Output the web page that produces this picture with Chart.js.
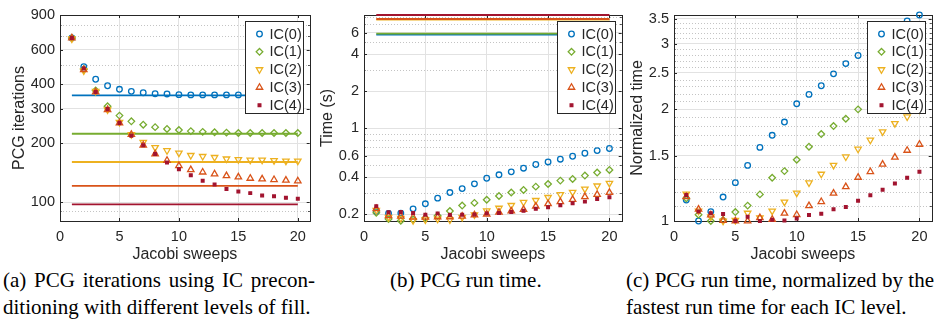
<!DOCTYPE html>
<html>
<head>
<meta charset="utf-8">
<script src="https://cdn.jsdelivr.net/npm/chart.js@4.4.0/dist/chart.umd.min.js"></script>
<style>
  body { margin: 0; background: #fff; width: 937px; height: 324px; position: relative; overflow: hidden; }
  canvas { position: absolute; top: 0; }
  .cap { position: absolute; font-family: 'Liberation Serif', 'Times New Roman', serif; font-size: 21px; line-height: 27px; color: #000; white-space: nowrap; }
  .just { text-align: justify; text-align-last: justify; white-space: normal; }
</style>
</head>
<body>
<canvas id="iterChart" style="left:0px" width="315" height="264"></canvas>
<canvas id="timeChart" style="left:315px" width="312" height="264"></canvas>
<canvas id="normChart" style="left:627px" width="310" height="264"></canvas>

<div class="cap just" style="left:3px; top:267px; width:312px">(a) PCG iterations using IC precon-</div>
<div class="cap" style="left:3px; top:294px">ditioning with different levels of fill.</div>
<div class="cap" style="left:390px; top:267px">(b) PCG run time.</div>
<div class="cap just" style="left:626px; top:267px; width:308px">(c) PCG run time, normalized by the</div>
<div class="cap" style="left:626px; top:294px">fastest run time for each IC level.</div>

<script>
// Jacobi sweeps on the x axis
const sweeps = [1, 2, 3, 4, 5, 6, 7, 8, 9, 10, 11, 12, 13, 14, 15, 16, 17, 18, 19, 20];
const icLabels = ['IC(0)', 'IC(1)', 'IC(2)', 'IC(3)', 'IC(4)'];
const xTicks = [0, 5, 10, 15, 20];

// (a) PCG iterations
const iterIC0 = [687, 490, 423, 392, 376, 367, 361, 357, 356, 353, 352, 352, 352, 352, 352, 352, 352, 352, 352, 352];
const iterIC1 = [687, 476, 371, 308, 276, 258, 248, 241, 236, 233, 230, 228, 227, 226, 225, 225, 225, 225, 225, 225];
const iterIC2 = [680, 468, 367, 296, 255, 221, 202, 190, 183, 178, 173, 171, 169, 166, 165, 164, 164, 163, 162, 162];
const iterIC3 = [687, 473, 364, 296, 253, 221, 195, 176, 163, 153, 146, 142, 139, 136, 134, 132, 131, 130, 129, 128];
const iterIC4 = [687, 480, 364, 298, 253, 218, 195, 176, 159, 147, 137, 128.5, 123, 116.5, 113, 111, 108, 107, 105, 104];
const iterExact = [350, 223, 160, 121, 97.3];
const iterTicks = [100, 200, 300, 400, 600, 900];
const iterMinor = [80, 90, 500, 700, 800];

// (b) PCG run time (s)
const timeIC0 = [0.210, 0.203, 0.204, 0.221, 0.243, 0.270, 0.300, 0.323, 0.353, 0.392, 0.418, 0.442, 0.473, 0.507, 0.532, 0.560, 0.592, 0.626, 0.658, 0.684];
const timeIC1 = [0.205, 0.183, 0.177, 0.181, 0.186, 0.194, 0.212, 0.235, 0.247, 0.262, 0.281, 0.300, 0.315, 0.335, 0.352, 0.375, 0.387, 0.412, 0.436, 0.458];
const timeIC2 = [0.215, 0.189, 0.185, 0.178, 0.180, 0.183, 0.180, 0.189, 0.198, 0.213, 0.224, 0.236, 0.250, 0.259, 0.274, 0.289, 0.302, 0.321, 0.340, 0.357];
const timeIC3 = [0.221, 0.194, 0.192, 0.189, 0.189, 0.190, 0.190, 0.192, 0.197, 0.200, 0.207, 0.212, 0.218, 0.232, 0.243, 0.252, 0.263, 0.277, 0.289, 0.300];
const timeIC4 = [0.232, 0.207, 0.208, 0.204, 0.198, 0.203, 0.197, 0.198, 0.199, 0.203, 0.204, 0.208, 0.213, 0.221, 0.228, 0.236, 0.245, 0.253, 0.266, 0.275];
const timeExact = [5.77, 5.88, 7.64, 7.74, 8.34];
const timeTicks = [0.2, 0.4, 0.6, 1, 2, 4, 6];
const timeMinor = [0.3, 0.5, 0.7, 0.8, 0.9, 3, 5, 7, 8];

// (c) normalized run time
const normIC0 = [1.139, 1.0, 1.06, 1.16, 1.268, 1.411, 1.577, 1.70, 1.845, 2.066, 2.19, 2.31, 2.487, 2.65, 2.786, 2.93, 3.09, 3.26, 3.45, 3.58];
const normIC1 = [1.151, 1.04, 1.0, 1.006, 1.057, 1.10, 1.179, 1.307, 1.362, 1.461, 1.584, 1.713, 1.80, 1.883, 1.996, 2.1, 2.22, 2.35, 2.48, 2.62];
const normIC2 = [1.182, 1.064, 1.027, 1.0, 1.005, 1.05, 1.02, 1.064, 1.125, 1.19, 1.267, 1.337, 1.413, 1.488, 1.561, 1.651, 1.738, 1.83, 1.906, 1.99];
const normIC3 = [1.162, 1.075, 1.038, 1.003, 1.0, 1.0, 1.02, 1.01, 1.049, 1.04, 1.099, 1.127, 1.187, 1.236, 1.31, 1.357, 1.42, 1.483, 1.548, 1.607];
const normIC4 = [1.174, 1.06, 1.049, 1.044, 1.0, 1.027, 1.0, 1.008, 1.003, 1.015, 1.038, 1.046, 1.075, 1.09, 1.134, 1.172, 1.214, 1.262, 1.307, 1.357];
const normTicks = [1, 1.5, 2, 2.5, 3, 3.5];
const normMinor = [1.1, 1.2, 1.3, 1.4, 1.6, 1.7, 1.8, 1.9, 2.1, 2.2, 2.3, 2.4, 2.6, 2.7, 2.8, 2.9, 3.1, 3.2, 3.3, 3.4];

// kiểu vẽ (màu MATLAB)
const colors = ['#0072BD', '#77AC30', '#EDB120', '#D95319', '#A2142F'];
const markers = [
    { style: 'circle', radius: 2.8, rotation: 0, fill: false },
    { style: 'rectRot', radius: 3.3, rotation: 0, fill: false },
    { style: 'triangle', radius: 3.7, rotation: 180, fill: false },
    { style: 'triangle', radius: 3.7, rotation: 0, fill: false },
    { style: 'rect', radius: 1.9, rotation: 0, fill: true }
];
const axisColor = '#262626';
const sans = "'Liberation Sans', Arial, Helvetica, sans-serif";

function drawMarker(ctx, m, color, x, y) {
    const r = m.radius;
    ctx.beginPath();
    if (m.style === 'circle') {
        ctx.arc(x, y, r, 0, Math.PI * 2);
    } else if (m.style === 'rectRot') {
        ctx.moveTo(x, y - r); ctx.lineTo(x + r, y); ctx.lineTo(x, y + r); ctx.lineTo(x - r, y);
        ctx.closePath();
    } else if (m.style === 'triangle') {
        let rad = m.rotation * Math.PI / 180;
        for (let k = 0; k < 3; k++) {
            const px = x + Math.sin(rad) * r, py = y - Math.cos(rad) * r;
            if (k === 0) ctx.moveTo(px, py); else ctx.lineTo(px, py);
            rad += Math.PI * 2 / 3;
        }
        ctx.closePath();
    } else {
        const s = r * Math.SQRT1_2;
        ctx.rect(x - s, y - s, 2 * s, 2 * s);
    }
    if (m.fill) { ctx.fillStyle = color; ctx.fill(); }
    ctx.strokeStyle = color;
    ctx.lineWidth = 1.3;
    ctx.stroke();
}

// lưới phụ chấm, khung trục, vạch chia kiểu MATLAB và chú giải
const matlabAxes = {
    id: 'matlabAxes',
    beforeDatasetsDraw(chart, args, opts) {
        const { ctx, chartArea: a } = chart;
        const y = chart.scales.y, x = chart.scales.x;
        ctx.save();
        ctx.strokeStyle = '#c4c4c4';
        ctx.lineWidth = 1;
        ctx.setLineDash([1, 2]);
        opts.minor.forEach(v => {
            const py = Math.round(y.getPixelForValue(v)) + 0.5;
            ctx.beginPath(); ctx.moveTo(a.left, py); ctx.lineTo(a.right, py); ctx.stroke();
        });
        ctx.setLineDash([]);
        ctx.strokeStyle = axisColor;
        ctx.beginPath();
        opts.major.forEach(v => {
            const py = Math.round(y.getPixelForValue(v)) + 0.5;
            ctx.moveTo(a.left, py); ctx.lineTo(a.left + 3, py);
            ctx.moveTo(a.right, py); ctx.lineTo(a.right - 3, py);
        });
        opts.minor.forEach(v => {
            const py = Math.round(y.getPixelForValue(v)) + 0.5;
            ctx.moveTo(a.left, py); ctx.lineTo(a.left + 1.5, py);
            ctx.moveTo(a.right, py); ctx.lineTo(a.right - 1.5, py);
        });
        xTicks.forEach(v => {
            const px = Math.round(x.getPixelForValue(v)) + 0.5;
            ctx.moveTo(px, a.bottom); ctx.lineTo(px, a.bottom - 3);
            ctx.moveTo(px, a.top); ctx.lineTo(px, a.top + 3);
        });
        ctx.stroke();
        ctx.strokeRect(Math.round(a.left) + 0.5, Math.round(a.top) + 0.5,
            Math.round(a.right) - Math.round(a.left), Math.round(a.bottom) - Math.round(a.top));
        ctx.restore();
    },
    afterDatasetsDraw(chart) {
        const { ctx, chartArea: a } = chart;
        const w = 58, h = 92;
        const left = Math.round(a.right - 7 - w) + 0.5, top = Math.round(a.top + 6) + 0.5;
        ctx.save();
        ctx.fillStyle = '#fff';
        ctx.fillRect(left, top, w, h);
        ctx.strokeStyle = axisColor;
        ctx.lineWidth = 1;
        ctx.strokeRect(left, top, w, h);
        ctx.font = '14.5px ' + sans;
        ctx.textBaseline = 'middle';
        icLabels.forEach((lab, i) => {
            const cy = top + 12.5 + i * 17.8;
            drawMarker(ctx, markers[i], colors[i], left + 14, cy);
            ctx.fillStyle = axisColor;
            ctx.fillText(lab, left + 24, cy + 0.5);
        });
        ctx.restore();
    }
};

function buildChart(id, series, exact, yMin, yMax, yMajor, yMinor, yTitle, padLeft, yWidth, padRight) {
    const datasets = [];
    if (exact) {
        // đường tham chiếu: dataset sau vẽ đè lên dataset trước
        exact.forEach((v, i) => datasets.push({
            type: 'line',
            data: [{ x: sweeps[0], y: v }, { x: sweeps[sweeps.length - 1], y: v }],
            borderColor: colors[i],
            borderWidth: 1.8,
            pointRadius: 0,
            clip: false,
            order: 20 - i
        }));
    }
    series.forEach((vals, i) => {
        const m = markers[i];
        datasets.push({
            label: icLabels[i],
            data: sweeps.map((s, k) => ({ x: s, y: vals[k] })),
            showLine: false,
            pointStyle: m.style,
            pointRadius: m.radius,
            pointRotation: m.rotation,
            pointBorderWidth: 1.3,
            pointBorderColor: colors[i],
            pointBackgroundColor: m.fill ? colors[i] : 'rgba(0,0,0,0)',
            clip: false,
            order: 5 - i
        });
    });

    return new Chart(document.getElementById(id), {
        type: 'scatter',
        data: { datasets: datasets },
        options: {
            responsive: false,
            animation: false,
            events: [],
            layout: { padding: { left: padLeft, right: padRight, top: 15, bottom: 0 } },
            plugins: {
                legend: { display: false },
                tooltip: { enabled: false },
                matlabAxes: { major: yMajor, minor: yMinor }
            },
            scales: {
                x: {
                    type: 'linear',
                    min: 0,
                    max: 21,
                    afterBuildTicks: s => { s.ticks = xTicks.map(v => ({ value: v })); },
                    afterFit: s => { s.height = 43; },
                    grid: { color: '#e2e2e2', drawTicks: false },
                    border: { display: false },
                    ticks: { color: axisColor, font: { family: sans, size: 14.5 }, padding: 7, maxRotation: 0, autoSkip: false },
                    title: { display: true, text: 'Jacobi sweeps', color: axisColor, font: { family: sans, size: 16 }, padding: 0 }
                },
                y: {
                    type: 'logarithmic',
                    min: yMin,
                    max: yMax,
                    afterBuildTicks: s => { s.ticks = yMajor.map(v => ({ value: v })); },
                    afterFit: s => { s.width = yWidth; },
                    grid: { color: '#e2e2e2', drawTicks: false },
                    border: { display: false },
                    ticks: {
                        color: axisColor, font: { family: sans, size: 14.5 }, padding: 5, autoSkip: false,
                        callback: v => String(v)
                    },
                    title: { display: true, text: yTitle, color: axisColor, font: { family: sans, size: 16 }, padding: 0 }
                }
            }
        },
        plugins: [matlabAxes]
    });
}

buildChart('iterChart', [iterIC0, iterIC1, iterIC2, iterIC3, iterIC4], iterExact,
    80, 900, iterTicks, iterMinor, 'PCG iterations', 10, 50, 2);
buildChart('timeChart', [timeIC0, timeIC1, timeIC2, timeIC3, timeIC4], timeExact,
    0.176, 8.34, timeTicks, timeMinor, 'Time (s)', 3.4, 45.6, 4);
buildChart('normChart', [normIC0, normIC1, normIC2, normIC3, normIC4], null,
    1, 3.58, normTicks, normMinor, 'Normalized time', 1, 46, 4);
</script>
</body>
</html>
